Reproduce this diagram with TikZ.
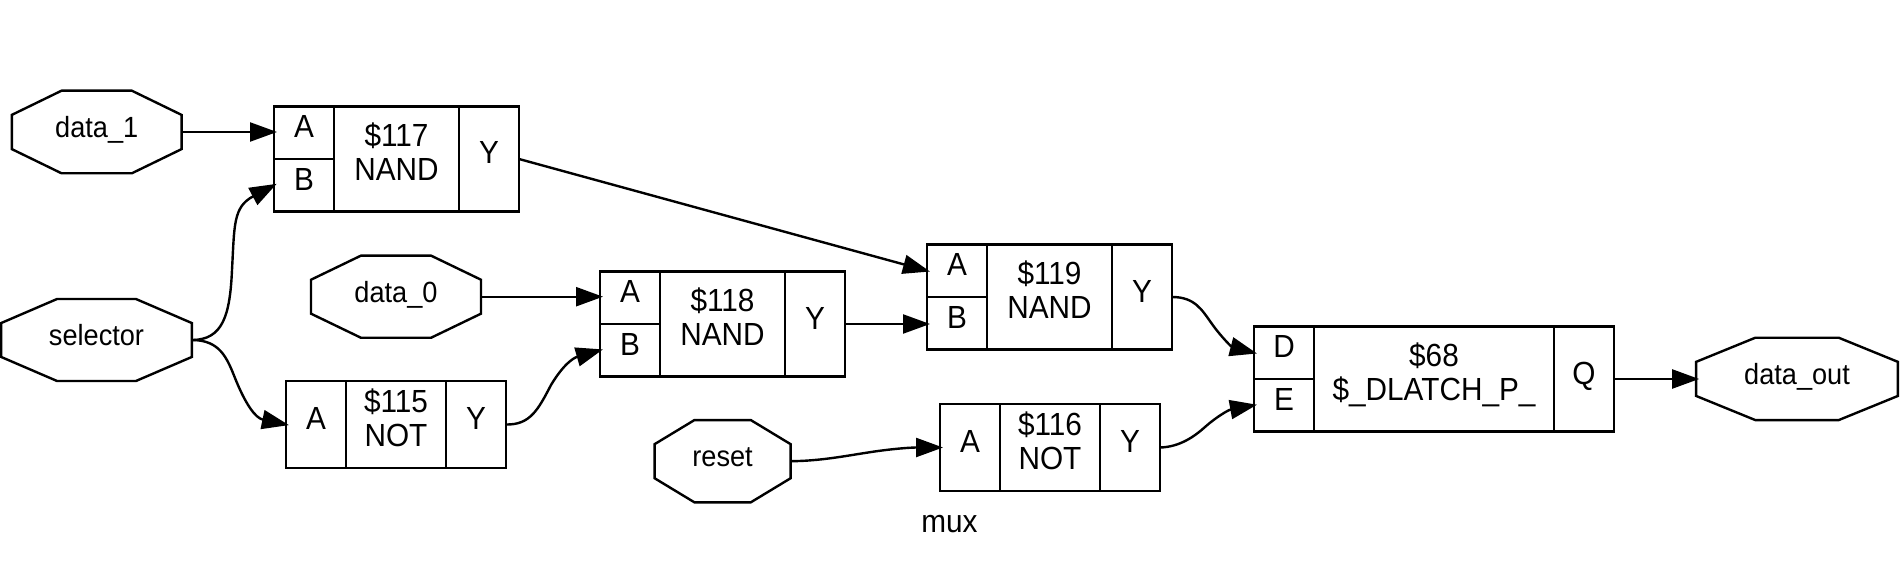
\documentclass[tikz,border=0pt]{standalone}
\usepackage{fontspec}
\setmainfont[FakeStretch=0.93]{Liberation Sans}
\usetikzlibrary{arrows.meta,calc}

\begin{document}
\begin{tikzpicture}[x=1pt,y=-1pt]
		\tikzstyle{Pin}		= [rectangle, inner sep=0pt, outer sep=0pt, minimum width=0pt, text height=20pt, text depth=9pt, font=\fontsize{29.2}{33}\selectfont]
		\tikzstyle{Cell}	= [rectangle, draw, line width=2.4pt, inner sep=0pt, outer sep=0pt, anchor=north west, font=\fontsize{32}{33.7}\selectfont]
		\tikzstyle{Port}	= [Cell, minimum width=60pt, text height=20pt, text depth=10pt]
		\tikzstyle{Half}	= [Port, minimum height=52.5pt]
		\tikzstyle{Body}	= [Cell, align=center, text height=43pt, text depth=0pt]
		\tikzstyle{Wire}	= [line width=2.4pt, -{Triangle[length=27pt,width=19pt]}, shorten >=-3pt]
		
		\useasboundingbox (0,0) rectangle (1902,569);
		
		\node (data1) at (96.7,132) [Pin, minimum width=169.8pt, minimum height=82.6pt] {data\_1};
		\node (selector) at (96.5,340) [Pin, minimum width=190.6pt, minimum height=82pt] {selector};
		\node (data0) at (396,296.7) [Pin, minimum width=170pt, minimum height=82pt] {data\_0};
		\node (reset) at (722.6,461.2) [Pin, minimum width=136pt, minimum height=82.3pt] {reset};
		\node (dataout) at (1797,378.9) [Pin, minimum width=201.8pt, minimum height=82.3pt] {data\_out};
		
		\foreach \n in {data1,selector,data0,reset,dataout} {
			\draw [line width=2.4pt, line join=miter]
				($(\n.north west)!0.293!(\n.north east)$) -- ($(\n.north east)!0.293!(\n.north west)$)
				-- ($(\n.north east)!0.293!(\n.south east)$) -- ($(\n.south east)!0.293!(\n.north east)$)
				-- ($(\n.south east)!0.293!(\n.south west)$) -- ($(\n.south west)!0.293!(\n.south east)$)
				-- ($(\n.south west)!0.293!(\n.north west)$) -- ($(\n.north west)!0.293!(\n.south west)$) -- cycle;
		}
		
		\node (n117A) at (274,106.5) [Half] {A};
		\node (n117B) at (274,159) [Half] {B};
		\node (n117C) at (334,106.5) [Body, minimum width=125pt, minimum height=105pt] {\$117\\NAND};
		\node (n117Y) at (459,106.5) [Port, minimum height=105pt] {Y};
		
		\node (n118A) at (600,271.5) [Half] {A};
		\node (n118B) at (600,324) [Half] {B};
		\node (n118C) at (660,271.5) [Body, minimum width=125pt, minimum height=105pt] {\$118\\NAND};
		\node (n118Y) at (785,271.5) [Port, minimum height=105pt] {Y};
		
		\node (n119A) at (927,244.5) [Half] {A};
		\node (n119B) at (927,297) [Half] {B};
		\node (n119C) at (987,244.5) [Body, minimum width=125pt, minimum height=105pt] {\$119\\NAND};
		\node (n119Y) at (1112,244.5) [Port, minimum height=105pt] {Y};
		
		\node (n68D) at (1254,326.5) [Half] {D};
		\node (n68E) at (1254,379) [Half] {E};
		\node (n68C) at (1314,326.5) [Body, minimum width=240pt, minimum height=105pt] {\$68\\\$\_DLATCH\_P\_};
		\node (n68Q) at (1554,326.5) [Port, minimum height=105pt] {Q};
		
		\node (n115A) at (286,381) [Port, minimum height=87pt] {A};
		\node (n115C) at (346,381) [Body, minimum width=100pt, minimum height=87pt] {\$115\\NOT};
		\node (n115Y) at (446,381) [Port, minimum height=87pt] {Y};
		
		\node (n116A) at (940,404) [Port, minimum height=87pt] {A};
		\node (n116C) at (1000,404) [Body, minimum width=100pt, minimum height=87pt] {\$116\\NOT};
		\node (n116Y) at (1100,404) [Port, minimum height=87pt] {Y};
		
		\node (mux) at (949.4,523.8) [inner sep=0pt, font=\fontsize{32}{33}\selectfont] {mux};
		
		\draw [Wire] (data1.east) -- (data1.east -| n117A.west);
		\draw [Wire] (selector.east) .. controls (223,340) and (230,315) .. (232,270) .. controls (234.5,225) and (233,207) .. (n117B.west);
		\draw [Wire] (selector.east) .. controls (220,340) and (227,358) .. (235,378) .. controls (245,403) and (255,418) .. (n115A.west);
		\draw [Wire] (data0.east) -- (data0.east -| n118A.west);
		\draw [Wire] (n115Y.east) .. controls (530,425) and (538,410) .. (551,385) .. controls (563,365) and (573,358) .. (n118B.west);
		\draw [Wire] (n117Y.east) -- (n119A.west);
		\draw [Wire] (n118Y.east) -- (n118Y.east -| n119B.west);
		\draw [Wire] (n119Y.east) .. controls (1195,297) and (1202,310) .. (1212,324) .. controls (1222,338) and (1232,347) .. (n68D.west);
		\draw [Wire] (n116Y.east) .. controls (1180,447) and (1195,436) .. (1205,427) .. controls (1215,418) and (1228,410) .. (n68E.west);
		\draw [Wire] (reset.east) .. controls (820,461) and (845,456) .. (868,452.5) .. controls (890,449) and (910,447.5) .. (n116A.west);
		\draw [Wire] (n68Q.east) -- (n68Q.east -| dataout.west);
	\end{tikzpicture}
\end{document}
